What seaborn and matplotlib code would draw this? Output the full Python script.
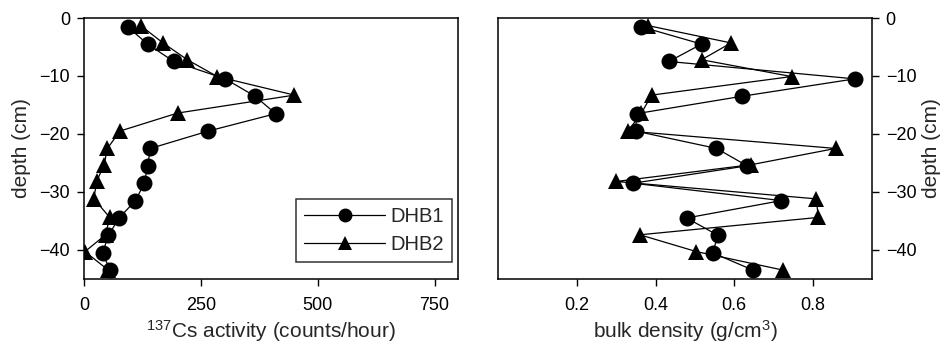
import numpy as np
import pandas as pd
import matplotlib
matplotlib.use("Agg")
import matplotlib.pyplot as plt
import seaborn as sns

sns.set_theme(style="white")
plt.rcParams['font.family'] = ['Liberation Sans', 'DejaVu Sans']
plt.rcParams['mathtext.fontset'] = 'custom'
plt.rcParams['mathtext.rm'] = 'Liberation Sans'
plt.rcParams['mathtext.it'] = 'Liberation Sans'
plt.rcParams['mathtext.bf'] = 'Liberation Sans'

depth = [-1.5, -4.5, -7.5, -10.5, -13.5, -16.5, -19.5, -22.5, -25.5, -28.5,
         -31.5, -34.5, -37.5, -40.5, -43.5]
depth2 = [-1.3, -4.3, -7.2, -10.1, -13.3, -16.4, -19.5, -22.5, -25.3, -28.2,
          -31.2, -34.4, -37.4, -40.3, -43.5]

cs_dhb1 = [93, 136, 192, 302, 366, 410, 266, 142, 136, 129, 110, 75, 52, 40, 55]
cs_dhb2 = [121, 169, 221, 285, 450, 200, 77, 50, 43, 27, 21, 55, 46, 2, 52]

bd_dhb1 = [0.363, 0.517, 0.434, 0.907, 0.620, 0.352, 0.349, 0.555, 0.633, 0.343,
           0.720, 0.479, 0.559, 0.545, 0.648]
bd_dhb2 = [0.380, 0.592, 0.517, 0.746, 0.390, 0.364, 0.330, 0.858, 0.644, 0.300,
           0.809, 0.814, 0.360, 0.504, 0.725]

cores = ["DHB1", "DHB2"]

df = pd.DataFrame({
    "depth": depth + depth2,
    "cs": cs_dhb1 + cs_dhb2,
    "bd": bd_dhb1 + bd_dhb2,
    "core": [cores[0]] * len(depth) + [cores[1]] * len(depth2),
})

fig = plt.figure(figsize=(9.41, 3.43), dpi=100)
ax1 = fig.add_axes([0.0893, 0.187, 0.3974, 0.7605])
ax2 = fig.add_axes([0.5296, 0.187, 0.3968, 0.7605])

common = dict(hue="core", style="core", markers={"DHB1": "o", "DHB2": "^"},
              dashes=False, palette={"DHB1": "black", "DHB2": "black"},
              sort=False, estimator=None, linewidth=0.9, markeredgewidth=0,
              markersize=11.5)

sns.lineplot(data=df, x="cs", y="depth", ax=ax1, **common)
sns.lineplot(data=df, x="bd", y="depth", ax=ax2, legend=False, **common)

for ax in (ax1, ax2):
    for s in ax.spines.values():
        s.set_visible(True)
        s.set_color("black")
        s.set_linewidth(1.1)
    ax.set_ylim(-45, 0)
    ax.set_yticks([0, -10, -20, -30, -40])
    ax.tick_params(direction="out", length=5, width=1, color="black",
                   labelsize=13, labelcolor="black", pad=5)
    ax.tick_params(axis="x", pad=8)

ax1.set_xlim(0, 800)
ax1.set_xticks([0, 250, 500, 750])
ax1.tick_params(left=True, bottom=True)
ax1.set_xlabel(r"$^{137}$Cs activity (counts/hour)", fontsize=15, labelpad=3)
ax1.set_ylabel("depth (cm)", fontsize=15, labelpad=6)

ax2.set_xlim(0, 0.95)
ax2.set_xticks([0.2, 0.4, 0.6, 0.8])
ax2.yaxis.tick_right()
ax2.yaxis.set_label_position("right")
ax2.tick_params(right=True, left=False, bottom=True, labelright=True, labelleft=False)
ax2.set_xlabel(r"bulk density (g/cm$^{3}$)", fontsize=15, labelpad=3)
ax2.set_ylabel("depth (cm)", fontsize=15, labelpad=4, rotation=90)

leg = ax1.legend(loc="lower right", bbox_to_anchor=(0.985, 0.065), frameon=True,
                 fancybox=False, edgecolor="black", fontsize=14.5,
                 handlelength=4.0, borderpad=0.4, labelspacing=0.45,
                 handletextpad=0.3, borderaxespad=0)
leg.get_frame().set_linewidth(1.1)
for h in leg.get_lines():
    h.set_markersize(10)
    h.set_linewidth(0.9)

fig.savefig("out.png", dpi=100)
